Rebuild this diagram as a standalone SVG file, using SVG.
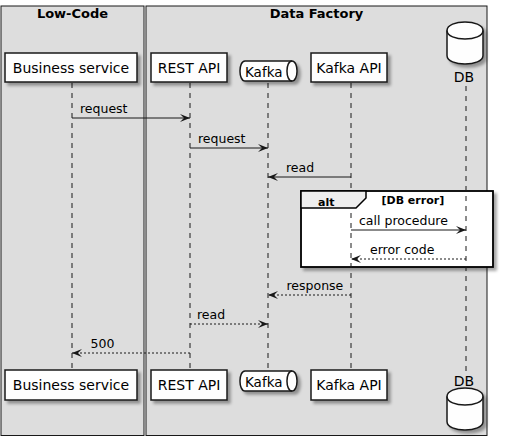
<svg xmlns="http://www.w3.org/2000/svg" width="506" height="441" viewBox="0 0 506 441">
<defs>
<filter id="sh" x="-20%" y="-20%" width="150%" height="160%">
<feDropShadow dx="3" dy="3" stdDeviation="1.8" flood-color="#000" flood-opacity="0.35"/>
</filter>
<marker id="a" viewBox="0 0 10 8" refX="10" refY="4" markerWidth="10" markerHeight="8" markerUnits="userSpaceOnUse" orient="auto">
<polygon points="0,0 10,4 0,8 4,4" fill="#181818"/>
</marker>
</defs>
<style>
.box{fill:#DDDDDD;stroke:#181818;stroke-width:1}
.bt{font-family:"DejaVu Sans",sans-serif;font-size:13px;font-weight:bold;fill:#000;text-anchor:middle}
.p{fill:#FEFEFE;stroke:#181818;stroke-width:1.5;filter:url(#sh)}
.pn{fill:none;stroke:#181818;stroke-width:1.5}
.pt{font-family:"DejaVu Sans",sans-serif;font-size:14px;fill:#000;text-anchor:middle}
.life{stroke:#181818;stroke-width:1;stroke-dasharray:5,5;fill:none}
.m{stroke:#181818;stroke-width:1;fill:none;marker-end:url(#a)}
.d{stroke-dasharray:2,2}
.mt{font-family:"DejaVu Sans",sans-serif;font-size:12.5px;fill:#000}
.fr{fill:#FFFFFF;stroke:#000;stroke-width:1.8;filter:url(#sh)}
.fh{fill:#EEEEEE;stroke:#000;stroke-width:1.5}
.ft{font-family:"DejaVu Sans",sans-serif;font-size:11px;font-weight:bold;fill:#000}
</style>
<rect width="506" height="441" fill="#FFFFFF"/>
<g id="box-lowcode">
<rect class="box" x="1" y="6" width="143" height="429.5"/>
<text class="bt" x="72.5" y="17.5">Low-Code</text>
</g>
<g id="box-datafactory">
<rect class="box" x="146" y="6" width="341" height="429.5"/>
<text class="bt" x="316.5" y="17.5">Data Factory</text>
</g>
<g id="alt-frame">
<rect class="fr" x="301" y="191" width="192" height="76"/>
</g>
<g id="lifelines">
<line class="life" x1="72" y1="83" x2="72" y2="370"/>
<line class="life" x1="190" y1="83" x2="190" y2="370"/>
<line class="life" x1="268" y1="83" x2="268" y2="370"/>
<line class="life" x1="351" y1="83" x2="351" y2="370"/>
<line class="life" x1="466" y1="86" x2="466" y2="374"/>
</g>
<g id="alt-header">
<polygon class="fh" points="301,191 366,191 366,198 356,208 301,208"/>
<text class="ft" x="318" y="205.5">alt</text>
<text class="ft" x="381.5" y="204">[DB error]</text>
</g>
<g id="business-service">
<rect class="p" x="5" y="53" width="132" height="29"/>
<text class="pt" x="71" y="72.5">Business service</text>
<rect class="p" x="5" y="370" width="132" height="30"/>
<text class="pt" x="71" y="390">Business service</text>
</g>
<g id="rest-api">
<rect class="p" x="151" y="53" width="76" height="29"/>
<text class="pt" x="189" y="72.5">REST API</text>
<rect class="p" x="151" y="370" width="76" height="30"/>
<text class="pt" x="189" y="390">REST API</text>
</g>
<g id="kafka">
<path class="p" d="M245,61 L292,61 C298.7,61 298.7,81 292,81 L245,81 C238.3,81 238.3,61 245,61 Z"/>
<path class="pn" d="M292,61 C285.3,61 285.3,81 292,81"/>
<text class="pt" x="245" y="77" style="text-anchor:start;font-size:13.5px">Kafka</text>
<path class="p" d="M245,371 L292,371 C298.7,371 298.7,391 292,391 L245,391 C238.3,391 238.3,371 245,371 Z"/>
<path class="pn" d="M292,371 C285.3,371 285.3,391 292,391"/>
<text class="pt" x="245" y="387" style="text-anchor:start;font-size:13.5px">Kafka</text>
</g>
<g id="kafka-api">
<rect class="p" x="311" y="53" width="76" height="29"/>
<text class="pt" x="349" y="72.5">Kafka API</text>
<rect class="p" x="311" y="370" width="76" height="30"/>
<text class="pt" x="349" y="390">Kafka API</text>
</g>
<g id="db">
<path class="p" d="M447,30.5 C447,19.2 483,19.2 483,30.5 L483,55.5 C483,66.8 447,66.8 447,55.5 Z"/>
<path class="pn" d="M447,30.5 C447,41.8 483,41.8 483,30.5"/>
<text class="pt" x="464" y="82">DB</text>
<text class="pt" x="464" y="386">DB</text>
<path class="p" d="M447,396.5 C447,385.2 483,385.2 483,396.5 L483,421.5 C483,432.8 447,432.8 447,421.5 Z"/>
<path class="pn" d="M447,396.5 C447,407.8 483,407.8 483,396.5"/>
</g>
<g id="connectors">
<path class="m" d="M72,118 H190"/>
<text class="mt" x="80" y="112.5">request</text>
<path class="m" d="M190,148 H268"/>
<text class="mt" x="198" y="142.5">request</text>
<path class="m" d="M351,177 H268"/>
<text class="mt" x="286" y="171.5">read</text>
<path class="m" d="M351,230 H466"/>
<text class="mt" x="359" y="224.5">call procedure</text>
<path class="m d" d="M466,259 H351"/>
<text class="mt" x="370" y="253.5">error code</text>
<path class="m d" d="M351,295 H268"/>
<text class="mt" x="286.5" y="289.5">response</text>
<path class="m d" d="M190,324 H268"/>
<text class="mt" x="197" y="318.5">read</text>
<path class="m d" d="M190,353 H72"/>
<text class="mt" x="90.5" y="347.5">500</text>
</g>
</svg>
